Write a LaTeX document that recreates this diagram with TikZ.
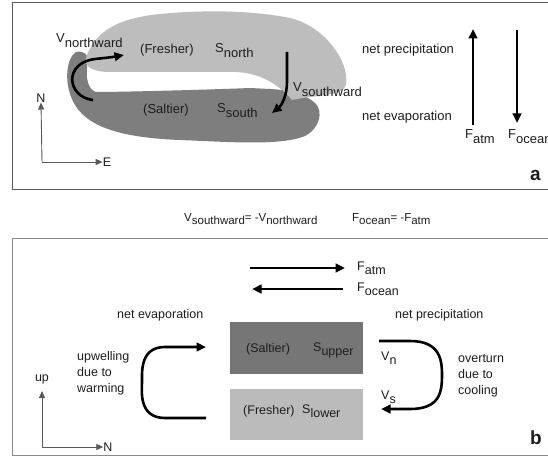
\documentclass[tikz,border=0pt]{standalone}
\usepackage{fontspec}
\setmainfont{Liberation Sans}
\usetikzlibrary{arrows.meta}
\definecolor{darkblob}{HTML}{7E7E7E}
\definecolor{lightblob}{HTML}{BDBDBD}
\definecolor{upperbox}{HTML}{767676}
\definecolor{lowerbox}{HTML}{BBBBBB}
\definecolor{ink}{HTML}{1E1E1E}
\definecolor{framea}{HTML}{5A5A5A}
\definecolor{frameb}{HTML}{8A8A8A}
\newcommand{\sbs}[1]{\raisebox{-0.32em}{#1}}
\begin{document}
\begin{tikzpicture}[x=1pt,y=-1pt,
  lbl/.style={font=\fontsize{12.5}{15}\selectfont, text=ink, inner sep=0pt, anchor=base west},
  albl/.style={font=\fontsize{13}{15}\selectfont, text=ink, inner sep=0pt, anchor=base west},
  midlbl/.style={font=\fontsize{11.5}{13}\selectfont, text=ink, inner sep=0pt, anchor=base west},
  panellbl/.style={font=\bfseries\fontsize{19}{19}\selectfont, text=ink, inner sep=0pt, anchor=base west},
  bigarrow/.style={line width=2.6pt, draw=black, -{Triangle[length=9.5pt,width=8.5pt]}},
  axisarrow/.style={line width=0.9pt, draw=gray!70!black, -{Triangle[length=7pt,width=6pt]}},
  frame/.style={line width=1pt}]
\useasboundingbox (0,0) rectangle (548,457);
\clip (0,0) rectangle (548,457);
\fill[white] (0,0) rectangle (548,457);

% ---------- panel a ----------
\draw[frame, draw=framea] (12,3) rectangle (600,189);

% dark (saltier) blob
\fill[darkblob] (76,52) .. controls (66,58) and (63,85) .. (75,105)
  .. controls (90,130) and (130,138) .. (180,140)
  .. controls (230,142) and (280,146) .. (305,136)
  .. controls (320,128) and (323,112) .. (316,104)
  .. controls (306,94) and (290,90) .. (270,89)
  -- (250,88) .. controls (200,90) and (120,92) .. (96,92)
  .. controls (89,90) and (86,80) .. (87,70)
  -- (87,56) .. controls (85,52) and (80,51) .. (76,52) -- cycle;
% light (fresher) blob
\fill[lightblob] (86,58) .. controls (95,30) and (120,18) .. (160,14)
  .. controls (200,10) and (250,10) .. (290,18)
  .. controls (322,25) and (350,60) .. (346,85)
  .. controls (343,97) and (312,95) .. (292,100)
  .. controls (280,86) and (262,73) .. (236,72)
  -- (110,72) .. controls (93,72) and (84,67) .. (86,58) -- cycle;

% circulation arrows
\coordinate (nstart) at (93,100);
\coordinate (nend) at (124,55);
\draw[bigarrow] (nstart) .. controls (67,97) and (63,63) .. (95,59)
  .. controls (105,58) and (113,57) .. (nend);
\coordinate (sstart) at (287,52);
\coordinate (send) at (272,113);
\draw[bigarrow] (sstart) -- (287,82) .. controls (287,95) and (282,105) .. (send);

\node[albl] (vn) at (56,43) {V\sbs{northward}};
\node[albl] (fr) at (140,54) {(Fresher)};
\node[albl] (sn) at (215,53) {S\sbs{north}};
\node[albl] (vs) at (293,92) {V\sbs{southward}};
\node[albl] (sa) at (143,114) {(Saltier)};
\node[albl] (ss) at (217,113) {S\sbs{south}};
\node[albl] (np) at (362,54) {net precipitation};
\node[albl] (ne) at (362,121) {net evaporation};

\coordinate (fab) at (473,125);
\coordinate (fat) at (473,29);
\draw[bigarrow] (fab) -- (fat);
\coordinate (fot) at (517,30);
\coordinate (fob) at (517,123);
\draw[bigarrow] (fot) -- (fob);
\node[albl] (fa) at (465,139) {F\sbs{atm}};
\node[albl] (fo) at (508,139) {F\sbs{ocean}};
\node[panellbl] (la) at (530,180) {a};

% compass a
\coordinate (ca) at (42,162);
\node[lbl, anchor=center] (an) at (41,98) {N};
\node[lbl, anchor=center] (ae) at (107,162) {E};
\draw[axisarrow] (ca) -- (an.south);
\draw[axisarrow] (ca) -- (ae.west);

% ---------- middle relations ----------
\node[midlbl] (rel1) at (184,221) {V\sbs{southward}= -V\sbs{northward}};
\node[midlbl] (rel2) at (352,221) {F\sbs{ocean}= -F\sbs{atm}};

% ---------- panel b ----------
\draw[frame, draw=frameb] (12,238) rectangle (600,455);

\coordinate (a1s) at (250,268);
\coordinate (a1e) at (345,268);
\draw[bigarrow] (a1s) -- (a1e);
\coordinate (a2s) at (343,289);
\coordinate (a2e) at (252,289);
\draw[bigarrow] (a2s) -- (a2e);
\node[lbl] (bfa) at (357,270) {F\sbs{atm}};
\node[lbl] (bfo) at (357,291) {F\sbs{ocean}};

\node[lbl] (bne) at (117,318) {net evaporation};
\node[lbl] (bnp) at (395,318) {net precipitation};

\node[fill=upperbox, minimum width=133pt, minimum height=52pt, inner sep=0pt, anchor=north west] (ub) at (230,322) {};
\node[fill=lowerbox, minimum width=133pt, minimum height=51pt, inner sep=0pt, anchor=north west] (lb) at (230,389) {};
\node[lbl] (bsa) at (246,352) {(Saltier)};
\node[lbl] (bsu) at (313,351) {S\sbs{upper}};
\node[lbl] (bfr) at (243,414) {(Fresher)};
\node[lbl] (bsl) at (302,413) {S\sbs{lower}};

% upwelling arrow (left)
\coordinate (ulb) at (206,418);
\coordinate (ult) at (206,347);
\draw[bigarrow] (ulb) -- (165,418) .. controls (138,418) and (142,390) .. (142,382)
  .. controls (142,372) and (140,347) .. (165,347) -- (ult);
% overturn arrow (right)
\coordinate (ort) at (379,341);
\coordinate (orb) at (381,409);
\draw[bigarrow] (ort) -- (410,341) .. controls (440,341) and (442,360) .. (442,375)
  .. controls (442,392) and (440,409) .. (410,409) -- (orb);

\node[lbl] (bvn) at (381,360) {V\sbs{n}};
\node[lbl] (bvs) at (381,399) {V\sbs{s}};

\node[lbl] (uw1) at (77,360) {upwelling};
\node[lbl] (uw2) at (77,376) {due to};
\node[lbl] (uw3) at (77,392) {warming};
\node[lbl] (ov1) at (458,362) {overturn};
\node[lbl] (ov2) at (458,378) {due to};
\node[lbl] (ov3) at (458,394) {cooling};

\node[panellbl] (lbb) at (530,444) {b};

% compass b
\coordinate (cb) at (42,447);
\node[lbl, anchor=center] (bup) at (42,379) {up};
\node[lbl, anchor=center] (bn) at (108,447) {N};
\draw[axisarrow] (cb) -- (42,391);
\draw[axisarrow] (cb) -- (bn.west);
\end{tikzpicture}
\end{document}
